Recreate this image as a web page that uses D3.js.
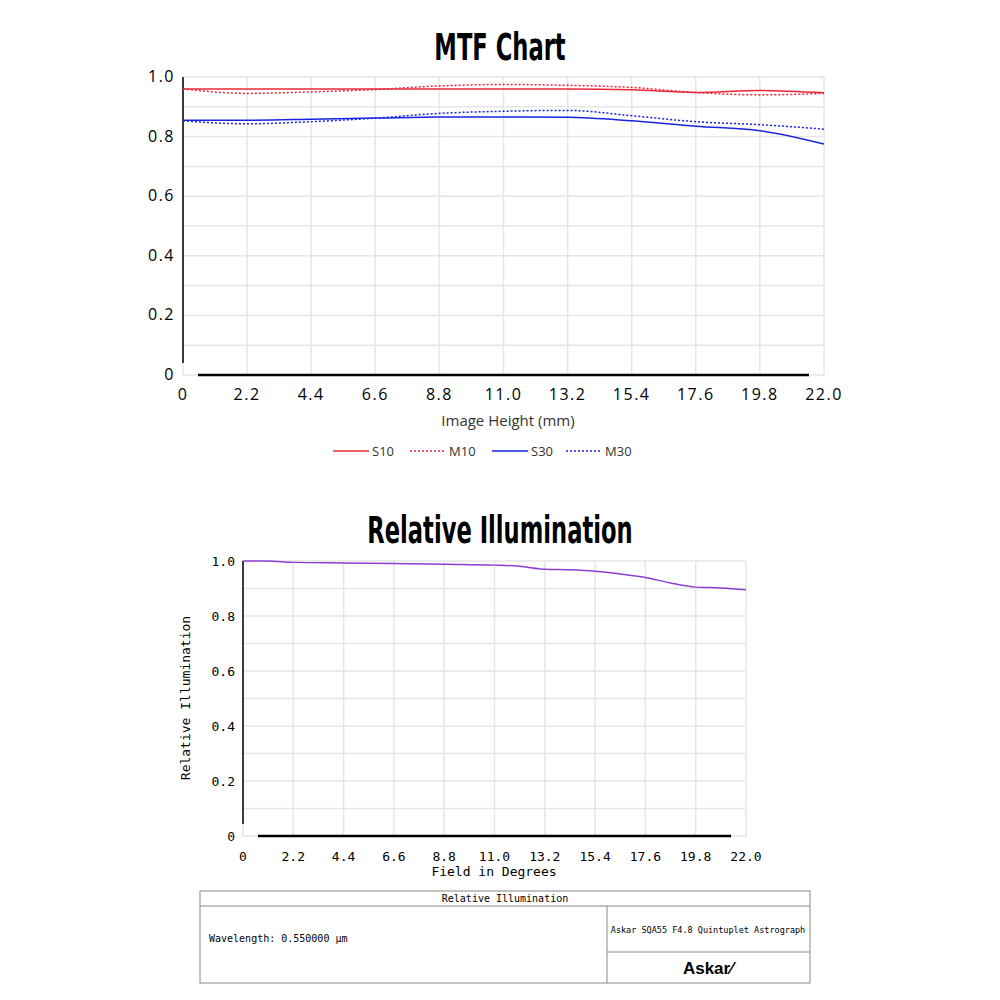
<!DOCTYPE html><html><head><meta charset="utf-8"><script src="https://cdn.jsdelivr.net/npm/d3@7"></script>
<style>body{margin:0;background:#fff}</style></head><body><svg id="c" width="1000" height="1000"></svg>
<script>
const xs=[0,2.2,4.4,6.6,8.8,11,13.2,15.4,17.6,19.8,22];
const s10=[0.96,0.96,0.96,0.96,0.96,0.96,0.96,0.957,0.948,0.955,0.947];
const m10=[0.96,0.945,0.95,0.958,0.97,0.975,0.972,0.965,0.948,0.94,0.945];
const s30=[0.855,0.855,0.858,0.862,0.866,0.866,0.865,0.853,0.835,0.82,0.775];
const m30=[0.853,0.843,0.85,0.862,0.878,0.885,0.888,0.87,0.85,0.84,0.825];
const riX=[0,1.1,2.2,4.4,6.6,8.8,11,12.1,13.2,14.3,15.4,16.5,17.6,18.7,19.8,20.9,22];
const riY=[1.0,1.0,0.995,0.993,0.991,0.988,0.985,0.981,0.97,0.968,0.963,0.953,0.94,0.92,0.905,0.902,0.895];
const xTicks=[0,2.2,4.4,6.6,8.8,11,13.2,15.4,17.6,19.8,22];
const yTicks=[0,0.2,0.4,0.6,0.8,1.0];
const svg=d3.select("#c");
const mono="'DejaVu Sans Mono',monospace";
const sans="'Open Sans',sans-serif";
function panel(x0,x1,y0,y1,fs,ff,ls){
  const x=d3.scaleLinear([0,22],[x0,x1]), y=d3.scaleLinear([0,1],[y0,y1]);
  const g=svg.append("g");
  g.selectAll(".v").data(xTicks).join("line").attr("x1",d=>x(d)).attr("x2",d=>x(d)).attr("y1",y0).attr("y2",y1).attr("stroke","#e6e6e6").attr("stroke-width",1.5);
  g.selectAll(".h").data(d3.range(0,1.001,0.1)).join("line").attr("y1",d=>y(d)).attr("y2",d=>y(d)).attr("x1",x0).attr("x2",x1).attr("stroke","#e6e6e6").attr("stroke-width",1.5);
  g.append("line").attr("x1",x0).attr("x2",x0).attr("y1",y0-12).attr("y2",y1).attr("stroke","#000").attr("stroke-width",1.5);
  g.append("line").attr("x1",x0+15).attr("x2",x1-15).attr("y1",y0).attr("y2",y0).attr("stroke","#000").attr("stroke-width",2.5);
  g.selectAll(".xt").data(xTicks).join("text").attr("x",d=>x(d)).attr("y",y0+25).attr("text-anchor","middle").attr("font-family",ff).attr("letter-spacing",ls).attr("font-size",fs).text(d=>d===0?"0":d.toFixed(1));
  g.selectAll(".yt").data(yTicks).join("text").attr("x",x0-8).attr("y",d=>y(d)+5).attr("text-anchor","end").attr("font-family",ff).attr("letter-spacing",ls).attr("font-size",fs).text(d=>d===0?"0":d.toFixed(1));
  return {x,y,g};
}
const title=(t,y)=>svg.append("text").attr("x",500).attr("y",y).attr("text-anchor","middle").attr("font-family","'DejaVu Sans Condensed',sans-serif").attr("font-weight","bold").attr("font-size",34).attr("transform",`translate(500,${y}) scale(0.74,1.12) translate(-500,${-y})`).text(t);
title("MTF Chart",60);
const p1=panel(183,824,375,77,16,sans,1.5);
const series=[[s10,"#e8283a",null],[m10,"#e8283a","2,2"],[s30,"#1a23e0",null],[m30,"#1a23e0","2,2"]];
const ln=d3.line().x((d,i)=>p1.x(xs[i])).y(d=>p1.y(d)).curve(d3.curveMonotoneX);
series.forEach(s=>p1.g.append("path").attr("d",ln(s[0])).attr("fill","none").attr("stroke",s[1]).attr("stroke-width",1.5).attr("stroke-dasharray",s[2]));
p1.g.append("text").attr("x",508).attr("y",426).attr("text-anchor","middle").attr("font-family",sans).attr("font-size",15).attr("fill","#333").text("Image Height (mm)");
const leg=[["S10",333],["M10",410],["S30",492],["M30",566]];
leg.forEach((l,i)=>{const s=series[i];
 svg.append("line").attr("x1",l[1]).attr("x2",l[1]+36).attr("y1",451).attr("y2",451).attr("stroke",s[1]).attr("stroke-width",1.5).attr("stroke-dasharray",s[2]);
 svg.append("text").attr("x",l[1]+39).attr("y",456).attr("font-family",sans).attr("font-size",13).attr("fill","#333").text(l[0]);});
title("Relative Illumination",543);
const p2=panel(243,746,836,561,13,mono,0);
p2.g.append("path").attr("d",d3.line().x((d,i)=>p2.x(riX[i])).y(d=>p2.y(d)).curve(d3.curveMonotoneX)(riY)).attr("fill","none").attr("stroke","#8a3fd1").attr("stroke-width",1.5);
p2.g.append("text").attr("x",494).attr("y",876).attr("text-anchor","middle").attr("font-family",mono).attr("font-size",13).text("Field in Degrees");
p2.g.append("text").attr("transform","translate(190,698) rotate(-90)").attr("text-anchor","middle").attr("font-family",mono).attr("font-size",13).text("Relative Illumination");
const b=svg.append("g").attr("fill","none").attr("stroke","#888");
b.append("rect").attr("x",200).attr("y",891).attr("width",610).attr("height",92);
b.append("line").attr("x1",200).attr("x2",810).attr("y1",906).attr("y2",906);
b.append("line").attr("x1",607).attr("x2",607).attr("y1",906).attr("y2",983);
b.append("line").attr("x1",607).attr("x2",810).attr("y1",952).attr("y2",952);
const t=(x,y,s,txt,a,ff,w)=>svg.append("text").attr("x",x).attr("y",y).attr("font-size",s).attr("text-anchor",a||"start").attr("font-family",ff||mono).attr("font-weight",w||"normal").text(txt);
t(505,902,10,"Relative Illumination","middle");
t(209,942,10,"Wavelength: 0.550000 µm");
t(708,933,8.5,"Askar SQA55 F4.8 Quintuplet Astrograph","middle");
t(708,974,17,"Askar⁄","middle","'Liberation Sans',sans-serif","bold");
</script></body></html>
